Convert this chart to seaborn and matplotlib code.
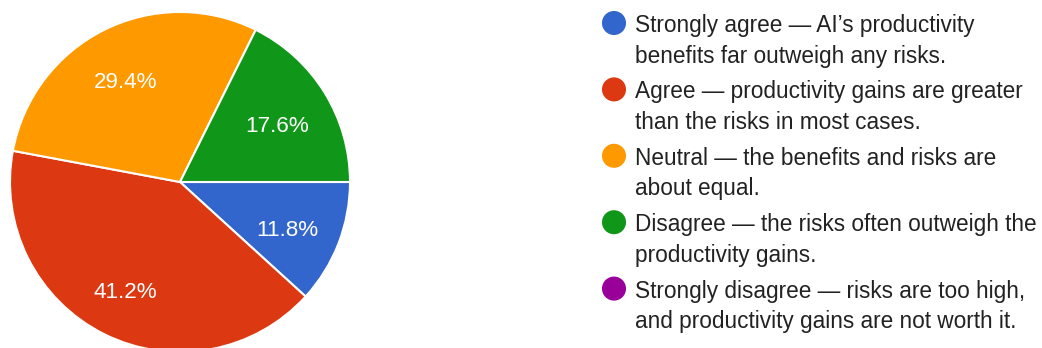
import matplotlib
matplotlib.use("Agg")
import matplotlib.pyplot as plt
import seaborn as sns

# Survey responses (counts) for each answer option
categories = [
    ["Strongly agree \u2014 AI\u2019s productivity", "benefits far outweigh any risks."],
    ["Agree \u2014 productivity gains are greater", "than the risks in most cases."],
    ["Neutral \u2014 the benefits and risks are", "about equal."],
    ["Disagree \u2014 the risks often outweigh the", "productivity gains."],
    ["Strongly disagree \u2014 risks are too high,", "and productivity gains are not worth it."],
]
counts = [2, 7, 5, 3, 0]
colors = ["#3366cc", "#dc3912", "#ff9900", "#109618", "#990099"]

sns.set_theme(style="white")
plt.rcParams["font.family"] = ["Liberation Sans", "DejaVu Sans"]

W, H = 1042, 348
fig = plt.figure(figsize=(W / 100, H / 100), dpi=100)
fig.patch.set_facecolor("white")

# Pie placed by pixel geometry: centre (180, 182), radius 170
cx, cy, r = 180, 182, 170
ax = fig.add_axes([(cx - r) / W, (H - cy - r) / H, 2 * r / W, 2 * r / H])
shown = [(c, col) for c, col in zip(counts, colors) if c > 0]
wedges, texts, autotexts = ax.pie(
    [s[0] for s in shown],
    colors=[s[1] for s in shown],
    startangle=0,
    counterclock=False,
    autopct="%.1f%%",
    pctdistance=0.69,
    wedgeprops=dict(edgecolor="white", linewidth=1.5),
    textprops=dict(color="white", fontsize=16.2),
)
for t in autotexts:
    t.set_va("center_baseline")
    x, y = t.get_position()
    t.set_position((x - 0.015, y - 0.02))
ax.set_xlim(-1, 1)
ax.set_ylim(-1, 1)
ax.set_aspect("equal")
ax.axis("off")

# Legend with wrapped labels, drawn in pixel coordinates
lax = fig.add_axes([0, 0, 1, 1], facecolor="none")
lax.set_xlim(0, W)
lax.set_ylim(H, 0)
lax.axis("off")
dot_y0, base_y0, step, line = 23, 32, 66.4, 30.5
for i, (lines, col) in enumerate(zip(categories, colors)):
    lax.scatter([614], [dot_y0 + i * step], s=300, color=col, edgecolors="none")
    for j, txt in enumerate(lines):
        lax.text(635, base_y0 + i * step + j * line, txt, ha="left",
                 va="baseline", fontsize=16.3, color="#222222")

fig.savefig("out.png", dpi=100, facecolor="white")
